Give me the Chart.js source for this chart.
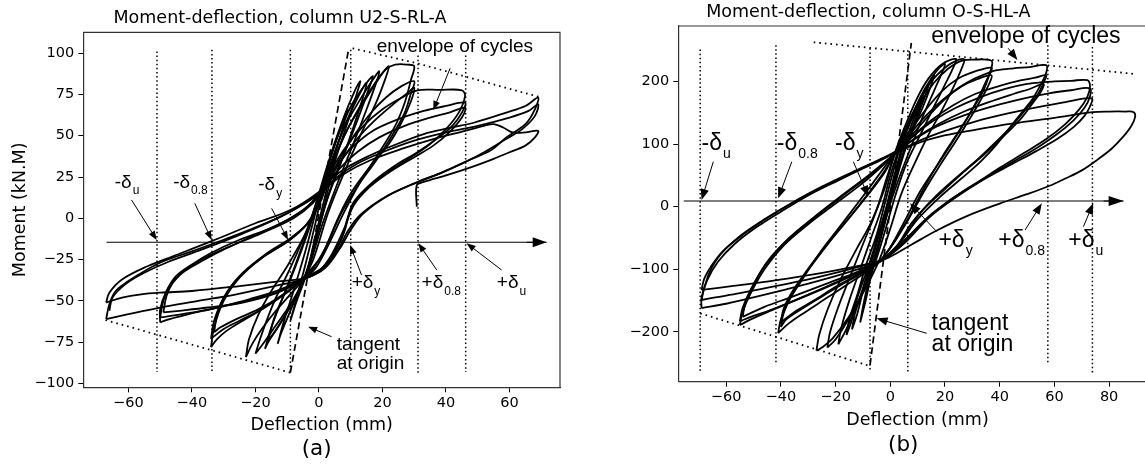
<!DOCTYPE html>
<html>
<head>
<meta charset="utf-8">
<script src="https://cdn.jsdelivr.net/npm/chart.js@4.4.1/dist/chart.umd.min.js"></script>
<style>
html,body{margin:0;padding:0;background:#fff;overflow:hidden;width:1145px;height:469px;}
#wa{position:absolute;left:0;top:0;width:572px;height:469px;}
#wb{position:absolute;left:580px;top:0;width:600px;height:469px;}
</style>
</head>
<body>
<div id="wa"><canvas id="chartA"></canvas></div>
<div id="wb"><canvas id="chartB"></canvas></div>
<script>
// ---- panel (a): column U2-S-RL-A, deflection (mm) vs moment (kN.m) ----
var xTicksA = [-60, -40, -20, 0, 20, 40, 60];
var yTicksA = [-100, -75, -50, -25, 0, 25, 50, 75, 100];

// small cycles around origin
var loopsA_small = [
  [[-9,-62],[-7,-48],[-4,-26],[-1,-2],[1,16],[3,32],[6,50],[9,66],[8,58],[5,38],[2,14],[-1,-10],[-4,-34],[-7,-50],[-9,-62]],
  [[-13,-76],[-11,-62],[-8,-44],[-4,-18],[-1,4],[1,18],[4,40],[8,62],[11,76],[13,83],[12,76],[9,58],[5,34],[2,10],[-2,-20],[-5,-38],[-9,-56],[-12,-70],[-13,-76]],
  [[-17,-79],[-15,-66],[-11,-46],[-7,-26],[-3,-4],[0,15],[3,34],[7,55],[11,71],[15,82],[17,86],[16,80],[13,64],[9,44],[4,20],[0,-6],[-4,-34],[-8,-50],[-13,-66],[-16,-75],[-17,-79]],
  [[-20,-82],[-18,-70],[-14,-50],[-9,-30],[-4,-8],[0,14],[4,35],[8,55],[13,72],[17,84],[19,89],[18,82],[15,66],[11,46],[6,22],[1,-4],[-4,-34],[-9,-52],[-14,-66],[-18,-77],[-20,-82]],
  [[-23,-84],[-22,-73],[-19,-58],[-15,-44],[-10,-29],[-5,-12],[-1,5],[1,16],[4,32],[8,50],[13,68],[17,80],[20,88],[22,92],[21,85],[18,70],[13,50],[8,28],[3,4],[-2,-26],[-5,-37],[-9,-46],[-14,-57],[-18,-67],[-21,-76],[-23,-84]],
  [[-16,-74],[-14,-60],[-10,-42],[-6,-22],[-2,0],[1,17],[5,40],[9,60],[13,76],[15,82],[14,74],[11,56],[7,34],[2,8],[-3,-28],[-7,-46],[-11,-60],[-14,-69],[-16,-74]]
];
// cycles to about +/-30 mm
var loopsA_30 = [
  [[-34,-78],[-33,-66],[-30,-50],[-25,-36],[-18,-24],[-9,-13],[-4,-4],[0,8],[2,18],[5,36],[9,54],[14,70],[18,82],[21,90],[24,93],[28,93],[30,92],[29,84],[27,70],[24,56],[19,40],[13,22],[8,4],[3,-16],[-1,-30],[-5,-37],[-10,-45],[-17,-54],[-24,-62],[-29,-68],[-32,-73],[-34,-78]],
  [[-34,-73],[-33,-62],[-30,-48],[-25,-35],[-18,-24],[-10,-14],[-4,-4],[0,9],[2,18],[6,34],[11,50],[16,63],[21,73],[26,80],[30,83],[29,76],[27,64],[23,50],[18,35],[12,19],[7,3],[2,-18],[-2,-31],[-5,-37],[-11,-46],[-18,-55],[-25,-62],[-30,-67],[-34,-73]],
  [[-33,-69],[-32,-58],[-29,-45],[-24,-33],[-17,-22],[-9,-12],[-3,-2],[0,10],[2,18],[6,32],[12,48],[18,60],[24,70],[28,76],[30,79],[29,71],[26,58],[22,45],[16,31],[10,15],[6,0],[1,-22],[-3,-32],[-6,-38],[-12,-47],[-19,-55],[-26,-61],[-31,-66],[-33,-69]]
];
// cycles to about +/-46 mm
var loopsA_46 = [
  [[-50,-63],[-50,-55],[-48,-44],[-45,-35],[-40,-28],[-34,-21],[-25,-13],[-14,-5],[-5,5],[0,15],[3,26],[8,42],[14,56],[20,66],[26,73],[31,77.5],[38,77.7],[45,77.5],[46,74],[44,64],[40,54],[35,45],[29,37],[21,27],[14,16],[10,5],[8,-8],[5,-20],[1,-30],[-5,-36],[-12,-43],[-22,-49],[-32,-54],[-41,-58],[-47,-61],[-50,-63]],
  [[-50,-60],[-49,-50],[-47,-41],[-43,-33],[-37,-26],[-29,-18],[-20,-10],[-10,-1],[-3,8],[1,17],[5,30],[10,42],[17,53],[25,60],[33,65],[40,68],[46,70],[45,64],[42,56],[37,48],[31,40],[24,32],[17,22],[11,10],[9,0],[7,-13],[2,-29],[-4,-36],[-12,-44],[-23,-50],[-34,-55],[-43,-58],[-50,-60]],
  [[-49,-57],[-48,-47],[-46,-39],[-42,-31],[-36,-24],[-28,-17],[-18,-9],[-8,0],[-2,9],[1,17],[6,29],[12,40],[19,49],[27,56],[35,61],[41,64],[46,67],[45,61],[41,52],[36,44],[30,37],[23,29],[16,19],[11,8],[8,-6],[4,-22],[0,-32],[-5,-37],[-13,-45],[-24,-51],[-35,-54],[-44,-56],[-49,-57]]
];
// cycles to about +/-68 mm
var loopsA_68 = [
  [[-67,-51],[-66,-45],[-62,-37],[-54,-29],[-46,-23],[-34,-14],[-20,-3],[-9,5],[0,16],[4,24],[9,31],[16,38],[22,43],[33,51],[42,55],[49,58],[59,64],[65,68],[69,73],[68,66],[65,57],[59,49],[54,41],[47,35],[39,28],[31,22],[22,14],[14,3],[10,-7],[7,-17],[2,-30],[-4,-36],[-12,-38],[-25,-41],[-40,-44],[-50,-45],[-56,-46],[-62,-48],[-67,-51]],
  [[-67,-61],[-66,-52],[-64,-44],[-60,-38],[-55,-32],[-49,-26],[-40,-20],[-30,-13],[-18,-4],[-8,5],[0,15],[5,24],[12,33],[20,40],[30,47],[40,52],[50,56],[60,61],[66,65],[69,69],[68,62],[64,54],[58,47],[52,40],[45,33],[38,27],[30,21],[21,13],[13,2],[9,-8],[6,-19],[1,-31],[-5,-37],[-14,-41],[-26,-46],[-38,-50],[-50,-54],[-60,-58],[-67,-61]],
  [[-66,-56],[-65,-48],[-61,-40],[-55,-33],[-47,-26],[-37,-19],[-25,-10],[-12,1],[-2,12],[2,18],[8,27],[16,35],[26,42],[36,48],[46,53],[52,56],[55,57],[58,55],[61,52],[65,52],[69,53],[68,49],[65,44],[60,40],[55,36],[48,31],[40,26],[33,22],[30.8,20],[30.8,7]]
];

// delta lines, envelope and tangent (a)
var deltaA = [-51, -33.7, -9, 10, 31.2, 46.2];
var deltaTopA = [101, 102, 102, 102, 101, 101];
var deltaBotA = [-93, -94, -93, -94, -94, -93];
var envUpA = [[10.6, 102.9], [31, 93.8], [69.1, 73.6]];
var envLowA = [[-67.2, -61.6], [-9, -93.4]];
var tangentA = [[-9, -93.4], [9.2, 100.9]];
var axisLineA = [[-66.9, -14.5], [71.7, -14.5]];

// ---- panel (b): column O-S-HL-A ----
var xTicksB = [-60, -40, -20, 0, 20, 40, 60, 80];
var yTicksB = [-200, -100, 0, 100, 200];

var loopsB_small = [
  [[-11,-185],[-10,-160],[-8,-120],[-5,-70],[-2,-20],[1,30],[3,70],[6,110],[9,145],[12,175],[11,160],[8,125],[5,85],[2,40],[-1,-10],[-4,-60],[-7,-110],[-9,-150],[-11,-185]],
  [[-16,-205],[-15,-180],[-12,-140],[-9,-95],[-5,-45],[-2,5],[1,55],[4,100],[8,145],[12,180],[16,210],[15,195],[12,160],[8,120],[4,75],[0,20],[-4,-40],[-8,-95],[-12,-145],[-14,-180],[-16,-205]],
  [[-19,-220],[-18,-195],[-15,-150],[-11,-100],[-7,-50],[-3,0],[0,50],[3,90],[7,135],[11,175],[15,205],[18,222],[20,228],[19,215],[16,185],[12,145],[8,100],[4,55],[0,5],[-4,-55],[-8,-110],[-12,-155],[-16,-195],[-19,-220]],
  [[-23,-225],[-22,-200],[-19,-160],[-15,-115],[-10,-60],[-5,-5],[-1,50],[2,90],[6,135],[10,175],[14,205],[19,228],[24,236],[23,222],[20,195],[16,160],[11,115],[6,70],[2,20],[-2,-40],[-6,-95],[-11,-145],[-16,-185],[-20,-212],[-23,-225]],
  [[-27,-230],[-26,-205],[-23,-165],[-18,-115],[-12,-65],[-7,-25],[-2,30],[1,75],[5,120],[10,165],[15,200],[20,222],[24,233],[27,235],[26,220],[23,190],[19,155],[14,115],[9,70],[4,20],[0,-35],[-4,-85],[-9,-130],[-15,-175],[-21,-210],[-25,-225],[-27,-230]],
  [[-14,-196],[-13,-172],[-10,-130],[-7,-85],[-3,-30],[0,25],[3,75],[6,120],[10,160],[14,195],[13,180],[10,145],[6,100],[2,50],[-2,-10],[-6,-75],[-10,-135],[-12,-170],[-14,-196]]
];
var loopsB_37 = [
  [[-41,-202],[-40,-180],[-37,-150],[-32,-115],[-26,-75],[-19,-35],[-12,5],[-6,40],[-1,70],[2,88],[6,125],[11,165],[16,198],[21,220],[26,233],[31,235],[37,233],[37,222],[35,200],[32,172],[28,140],[23,105],[17,65],[11,25],[5,-25],[0,-65],[-4,-88],[-9,-105],[-16,-125],[-24,-148],[-31,-168],[-37,-186],[-41,-202]],
  [[-40,-192],[-39,-170],[-36,-140],[-31,-105],[-24,-65],[-17,-28],[-10,10],[-4,45],[0,72],[2,88],[7,120],[13,155],[19,185],[25,205],[31,216],[37,222],[36,208],[34,185],[30,155],[25,120],[19,80],[13,35],[7,-15],[1,-60],[-4,-87],[-10,-105],[-18,-125],[-26,-146],[-33,-165],[-38,-180],[-40,-192]],
  [[-40,-185],[-39,-163],[-35,-130],[-29,-95],[-22,-55],[-15,-18],[-8,20],[-2,55],[2,86],[8,115],[14,145],[20,172],[26,192],[32,204],[37,210],[36,195],[33,170],[29,140],[24,105],[18,65],[12,22],[6,-25],[0,-65],[-4,-87],[-11,-106],[-20,-128],[-28,-150],[-35,-168],[-40,-185]]
];
var loopsB_57 = [
  [[-55,-189],[-54,-168],[-51,-138],[-46,-100],[-39,-62],[-30,-28],[-20,5],[-10,38],[-3,65],[2,87],[7,115],[13,145],[19,170],[25,190],[31,205],[36,214],[39,218],[45,221],[51,223],[57,226],[57,214],[55,195],[52,172],[48,150],[44,128],[39,100],[33,72],[26,45],[18,15],[10,-20],[3,-60],[-4,-87],[-12,-105],[-22,-125],[-33,-146],[-43,-165],[-50,-178],[-55,-189]],
  [[-55,-183],[-54,-162],[-51,-132],[-46,-95],[-38,-55],[-29,-22],[-19,12],[-9,45],[-2,70],[2,88],[8,112],[15,138],[23,162],[31,180],[40,193],[48,202],[53,206],[57,210],[56,198],[54,180],[50,158],[45,132],[39,105],[32,76],[24,46],[16,14],[8,-25],[2,-65],[-4,-88],[-13,-108],[-24,-130],[-35,-150],[-45,-167],[-51,-176],[-55,-183]],
  [[-54,-176],[-53,-155],[-50,-125],[-45,-88],[-37,-50],[-28,-17],[-18,17],[-8,50],[-1,75],[3,90],[10,112],[18,133],[27,152],[36,167],[45,180],[51,188],[56,196],[55,183],[52,165],[48,142],[42,115],[35,86],[27,56],[19,24],[11,-10],[4,-55],[-3,-86],[-12,-104],[-24,-124],[-36,-144],[-46,-160],[-54,-176]]
];
var loopsB_73 = [
  [[-69,-162],[-69,-145],[-67,-118],[-63,-88],[-57,-60],[-49,-33],[-40,-8],[-30,18],[-19,42],[-9,63],[-1,80],[3,92],[9,115],[16,138],[24,158],[33,175],[42,188],[50,196],[56,199],[60,200],[66,201],[72,202],[73,192],[72,175],[69,155],[64,132],[57,108],[49,86],[40,62],[31,36],[21,8],[12,-25],[4,-62],[-3,-86],[-12,-100],[-25,-117],[-38,-132],[-50,-145],[-60,-155],[-69,-162]],
  [[-69,-149],[-68,-130],[-66,-104],[-62,-76],[-55,-47],[-46,-20],[-36,6],[-25,32],[-14,55],[-4,75],[2,88],[9,108],[17,128],[27,146],[38,161],[49,173],[58,181],[66,186],[73,189],[73,176],[71,158],[67,138],[61,116],[54,95],[45,72],[35,47],[25,20],[15,-12],[6,-50],[-1,-80],[-4,-87],[-15,-100],[-28,-114],[-42,-127],[-55,-138],[-64,-145],[-69,-149]],
  [[-69,-133],[-68,-115],[-65,-92],[-61,-70],[-54,-45],[-45,-18],[-35,8],[-24,33],[-13,56],[-4,75],[2,86],[10,104],[20,121],[31,136],[43,149],[54,159],[64,167],[73.6,173],[73,160],[71,145],[67,127],[61,108],[53,88],[44,67],[34,43],[24,15],[14,-18],[6,-55],[-1,-80],[-5,-88],[-18,-100],[-32,-111],[-46,-120],[-58,-127],[-69,-133]]
];
var loopsB_88 = [
  [[2,85],[9,100],[18,112],[30,122],[45,133],[60,142],[74,151],[80,152],[86,152],[89,151],[89.5,143],[88,128],[85,111],[81,93],[76,76],[70,58],[64,45],[58,33],[50,20],[40,5],[28,-15],[17,-38],[8,-60],[0,-80],[-4,-87]]
];

var deltaB = [-69.5, -41.8, -7.4, 6.4, 57.6, 73.9];
var deltaTopB = [251, 258, 253, 250, 258, 255];
var deltaBotB = [-266, -253, -264, -266, -253, -266];
var envUpB = [[-28, 262.6], [89.4, 212]];
var envLowB = [[-69.5, -170.3], [-7.4, -254.5]];
var tangentB = [[-7.4, -253], [7.7, 261.5]];
var axisLineB = [[-75.5, 9.1], [85.3, 9.1]];

// ---- annotations (data units) ----
var notesA = {
  font: 19, sub: 12,
  deltas: [['-δ','u',-64.3,21.7],['-δ','0.8',-45.9,21.7],['-δ','y',-19.1,20.2],['+δ','y',10.3,-39.3],['+δ','0.8',32.3,-39.3],['+δ','u',56,-39.3]],
  arrows: [[-59,11.1,-51.1,-13.1],[-39.1,9.1,-33.8,-13.1],[-14.9,6,-9.7,-13.1],[13.4,-34.3,9.8,-16.2],[37.1,-31.3,31.3,-15.1],[57.5,-31.3,46.5,-15.1],[4,-71.7,-3.4,-65.6],[41.3,90.8,36,65.6]],
  texts: [['envelope of cycles',18.2,103.9],['tangent',5.6,-76.7],['at origin',5.6,-87.8]],
  head: 9, axisHead: 14, letter: ['(a)', 316.7, 449.3]
};
var notesB = {
  font: 23, sub: 14,
  deltas: [['-δ','u',-69,100.2],['-δ','0.8',-41.5,100.2],['-δ','y',-20.2,100.2],['+δ','y',17.6,-54.3],['+δ','0.8',39.5,-54.3],['+δ','u',65.1,-54.3]],
  arrows: [[-64.7,71.9,-69,10.7],[-36,71.9,-41,13.4],[-13.5,71.9,-8,16],[17,-39.9,7.2,5.4],[49.3,-37.2,55.4,5.4],[70.6,-31.9,74.2,5.4],[13.3,-202.2,-5,-178.3],[43.1,253,46.5,234.3]],
  texts: [['envelope of cycles',15,271.6],['tangent',15.1,-186.3],['at origin',15.1,-220.9]],
  head: 11, axisHead: 15, letter: ['(b)', 323.3, 445]
};

function fmt(v) { return v < 0 ? '\u2212' + Math.abs(v) : '' + v; }
function pts(a) { return a.map(function(p){ return {x: p[0], y: p[1]}; }); }

function loopSets(groups) {
  var out = [];
  groups.forEach(function(g){ g.forEach(function(l){
    out.push({data: pts(l), showLine: true, borderColor: '#000', borderWidth: 1.8, pointRadius: 0, tension: 0.35, fill: false});
  }); });
  return out;
}
function lineSet(a, dash, w) {
  return {data: pts(a), showLine: true, borderColor: '#000', borderWidth: w, borderDash: dash, pointRadius: 0, tension: 0, fill: false};
}
function refSets(delta, top, bot, envUp, envLow, tang, axisLine) {
  var out = [];
  delta.forEach(function(x, i){ out.push(lineSet([[x, top[i]], [x, bot[i]]], [1.5, 2.6], 1.5)); });
  out.push(lineSet(envUp, [1.6, 4], 1.8));
  out.push(lineSet(envLow, [1.6, 4], 1.8));
  out.push(lineSet(tang, [7, 4], 1.7));
  out.push(lineSet(axisLine, [], 1.2));
  return out;
}

function arrow(ctx, x1, y1, x2, y2, len, hw) {
  var a = Math.atan2(y2 - y1, x2 - x1);
  ctx.beginPath(); ctx.moveTo(x1, y1);
  ctx.lineTo(x2 - Math.cos(a) * len * 0.8, y2 - Math.sin(a) * len * 0.8); ctx.stroke();
  ctx.beginPath(); ctx.moveTo(x2, y2);
  ctx.lineTo(x2 - Math.cos(a) * len + Math.sin(a) * hw, y2 - Math.sin(a) * len - Math.cos(a) * hw);
  ctx.lineTo(x2 - Math.cos(a) * len - Math.sin(a) * hw, y2 - Math.sin(a) * len + Math.cos(a) * hw);
  ctx.closePath(); ctx.fill();
}

var annotPlugin = {
  id: 'annot',
  afterDatasetsDraw: function(chart, args, opts) {
    var ctx = chart.ctx, xs = chart.scales.x, ys = chart.scales.y, ca = chart.chartArea;
    var n = opts.notes, axisLine = opts.axisLine;
    var X = function(v){ return xs.getPixelForValue(v); }, Y = function(v){ return ys.getPixelForValue(v); };
    ctx.save();
    ctx.strokeStyle = '#333'; ctx.lineWidth = 1.2;
    ctx.beginPath(); ctx.moveTo(ca.left, ca.top); ctx.lineTo(ca.right, ca.top); ctx.lineTo(ca.right, ca.bottom); ctx.stroke();
    ctx.fillStyle = '#000'; ctx.strokeStyle = '#000'; ctx.lineWidth = 1;
    n.arrows.forEach(function(a){ arrow(ctx, X(a[0]), Y(a[1]), X(a[2]), Y(a[3]), n.head, n.head * 0.38); });
    arrow(ctx, X(axisLine[1][0]) - 20, Y(axisLine[1][1]), X(axisLine[1][0]), Y(axisLine[1][1]), n.axisHead, 5);
    ctx.textAlign = 'left'; ctx.textBaseline = 'middle';
    n.texts.forEach(function(t){
      ctx.font = n.font + 'px "Liberation Sans", Arial, sans-serif';
      var x = X(t[1]), y = Y(t[2]);
      ctx.fillStyle = '#fff'; ctx.fillRect(x - 1, y - n.font * 0.35, ctx.measureText(t[0]).width + 2, n.font * 0.7);
      ctx.fillStyle = '#000'; ctx.fillText(t[0], x, y);
    });
    n.deltas.forEach(function(d){
      var x = X(d[2]), y = Y(d[3]);
      ctx.font = n.font + 'px "Liberation Sans", Arial, sans-serif';
      ctx.fillText(d[0], x, y);
      var w = ctx.measureText(d[0]).width;
      ctx.font = n.sub + 'px "Liberation Sans", Arial, sans-serif';
      ctx.fillText(d[1], x + w + 1, y + n.font * 0.45);
    });
    ctx.textAlign = 'center';
    ctx.font = '21.5px "DejaVu Sans"';
    ctx.fillText(n.letter[0], n.letter[1], n.letter[2]);
    ctx.restore();
  }
};

function makeChart(id, cfg) {
  var tickFont = {family: 'DejaVu Sans', size: 14.5};
  var labFont = {family: 'DejaVu Sans', size: 17.5, weight: 'normal'};
  return new Chart(document.getElementById(id), {
    type: 'scatter',
    data: {datasets: refSets.apply(null, cfg.refs).concat(loopSets(cfg.loops))},
    options: {
      responsive: true, maintainAspectRatio: false, animation: false, events: [],
      layout: {padding: {left: 0, right: cfg.padRight, top: 0, bottom: 0}},
      plugins: {
        legend: {display: false}, tooltip: {enabled: false},
        title: {display: true, text: cfg.title, color: '#000', font: labFont, padding: cfg.titlePad},
        annot: {notes: cfg.notes, axisLine: cfg.refs[6]}
      },
      scales: {
        x: {
          type: 'linear', min: cfg.xr[0], max: cfg.xr[1],
          afterBuildTicks: function(s){ s.ticks = cfg.xt.map(function(v){ return {value: v}; }); },
          afterFit: function(s){ s.height = cfg.xh; },
          ticks: {callback: fmt, color: '#000', font: tickFont, padding: 2, maxRotation: 0, autoSkip: false},
          grid: {display: true, drawOnChartArea: false, drawTicks: true, tickLength: 5, color: '#000'},
          border: {display: true, color: '#333', width: 1.2},
          title: {display: true, text: 'Deflection (mm)', color: '#000', font: labFont, padding: {top: 0, bottom: cfg.xTitlePad}}
        },
        y: {
          type: 'linear', min: cfg.yr[0], max: cfg.yr[1],
          afterBuildTicks: function(s){ s.ticks = cfg.yt.map(function(v){ return {value: v}; }); },
          afterFit: function(s){ s.width = cfg.yw; },
          ticks: {callback: fmt, color: '#000', font: tickFont, padding: 4, autoSkip: false},
          grid: {display: true, drawOnChartArea: false, drawTicks: true, tickLength: 5, color: '#000'},
          border: {display: true, color: '#333', width: 1.2},
          title: {display: cfg.yTitle !== '', text: cfg.yTitle, color: '#000', font: labFont, padding: {top: 9.5, bottom: 0}}
        }
      }
    },
    plugins: [annotPlugin]
  });
}

makeChart('chartA', {
  title: 'Moment-deflection, column U2-S-RL-A', yTitle: 'Moment (kN.M)',
  xr: [-74.2, 75.9], yr: [-102.3, 112.6], xt: xTicksA, yt: yTicksA,
  yw: 83.3, xh: 81.7, padRight: 12, titlePad: {top: 7.8, bottom: 3.5}, xTitlePad: 33.5,
  refs: [deltaA, deltaTopA, deltaBotA, envUpA, envLowA, tangentA, axisLineA],
  loops: [loopsA_small, loopsA_30, loopsA_46, loopsA_68],
  notes: notesA
});
makeChart('chartB', {
  title: 'Moment-deflection, column O-S-HL-A', yTitle: '',
  xr: [-77.5, 97.4], yr: [-279.5, 288.6], xt: xTicksB, yt: yTicksB,
  yw: 98.3, xh: 87.3, padRight: 23.3, titlePad: {top: 2.2, bottom: 2.8}, xTitlePad: 38.5,
  refs: [deltaB, deltaTopB, deltaBotB, envUpB, envLowB, tangentB, axisLineB],
  loops: [loopsB_small, loopsB_37, loopsB_57, loopsB_73, loopsB_88],
  notes: notesB
});
</script>
</body>
</html>
